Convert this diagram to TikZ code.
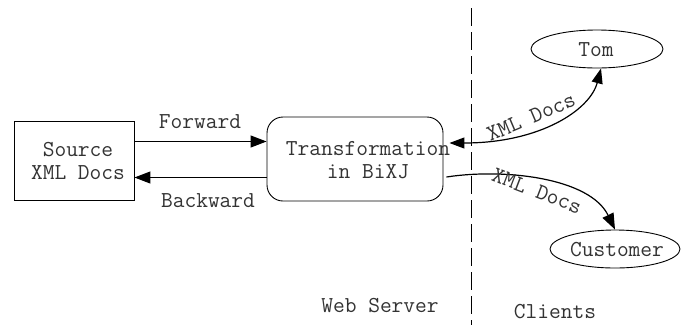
\documentclass[tikz,border=0pt]{standalone}
\usepackage{fontspec}
\usetikzlibrary{arrows.meta,shapes.geometric}
\begin{document}
\begin{tikzpicture}[x=1pt,y=-1pt,
  txt/.style={font=\ttfamily\fontsize{22.8}{23}\selectfont, text=black!80, inner sep=0pt, align=center},
  boxline/.style={draw, line width=0.9pt},
  arr/.style={line width=1.2pt, -{Triangle[length=16pt,width=12pt]}},
  darr/.style={line width=1.2pt, {Triangle[length=15pt,width=11pt]}-{Triangle[length=15pt,width=11pt]}}]
\useasboundingbox (0,0) rectangle (688,325);
\node[boxline, minimum width=120pt, minimum height=79pt, inner sep=0pt] (src) at (74,160.5) {};
\node[txt] (srct) at (78,161) {Source\\XML Docs};
\node[boxline, rounded corners=16pt, minimum width=176pt, minimum height=84pt, inner sep=0pt] (tr) at (355,159) {};
\node[txt] (trt) at (368,160) {Transformation\\in BiXJ};
\node[boxline, ellipse, minimum width=132pt, minimum height=38pt, inner sep=0pt] (tom) at (597,49) {};
\node[txt] (tomt) at (596,50) {Tom};
\node[boxline, ellipse, minimum width=130pt, minimum height=38pt, inner sep=0pt] (cust) at (615,249) {};
\node[txt] (custt) at (617,250) {Customer};
\coordinate (dtop) at (471,8);
\coordinate (dbot) at (471,325);
\draw[line width=1pt, dash pattern=on 18pt off 6pt] (dtop) -- (dbot);
\draw[arr] ([yshift=19pt]src.east) -- ([yshift=19pt]src.east -| tr.west);
\draw[arr] ([yshift=-17pt]src.east -| tr.west) -- ([yshift=-17pt]src.east);
\node[txt] (fw) at (200,122) {Forward};
\node[txt] (bw) at (208,201) {Backward};
\draw[darr] ([shift={(6pt,16pt)}]tr.east) .. controls (540,143) and (590,110) .. ([xshift=4pt]tom.south);
\draw[arr] ([shift={(3pt,-18pt)}]tr.east) .. controls (505,168) and (590,178) .. (cust.north);
\node[txt, rotate=23] (x1) at (531,117) {XML Docs};
\node[txt, rotate=-21] (x2) at (537,191) {XML Docs};
\node[txt] (ws) at (380,306) {Web Server};
\node[txt] (cl) at (555,312) {Clients};
\end{tikzpicture}
\end{document}
